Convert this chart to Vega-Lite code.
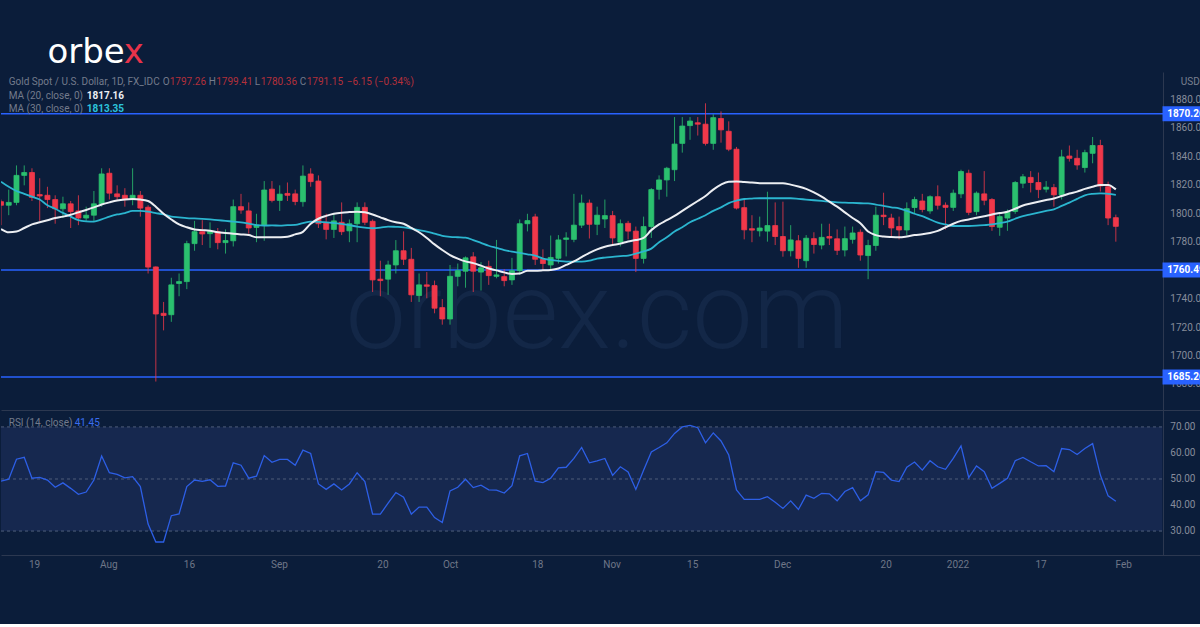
{
"$schema": "https://vega.github.io/schema/vega-lite/v6.json",
"background": "#0b1d3a",
"padding": {"left": 0, "top": 36, "right": 0, "bottom": 55},
"config": {"view": {"stroke": null}, "axis": {"labelFont": "Roboto", "labelFontSize": 10}},
"datasets": {
"gold": [
{"d":"2021-07-12","o":1808.5,"h":1810,"l":1792,"c":1806,"m20":1789.3,"m30":1822.6,"rsi":49.2},
{"d":"2021-07-13","o":1806,"h":1817,"l":1799,"c":1808,"m20":1787,"m30":1819,"rsi":49.9},
{"d":"2021-07-14","o":1808,"h":1834,"l":1806,"c":1827,"m20":1787.5,"m30":1816,"rsi":57.6},
{"d":"2021-07-15","o":1827,"h":1834,"l":1820,"c":1829,"m20":1790,"m30":1814,"rsi":58.3},
{"d":"2021-07-16","o":1829,"h":1832,"l":1809,"c":1811.5,"m20":1792.5,"m30":1812,"rsi":50.3},
{"d":"2021-07-19","o":1813.5,"h":1825,"l":1795,"c":1812.5,"m20":1794,"m30":1810,"rsi":50.6},
{"d":"2021-07-20","o":1813,"h":1819,"l":1804,"c":1810,"m20":1795.5,"m30":1806,"rsi":49.6},
{"d":"2021-07-21","o":1810,"h":1813,"l":1793,"c":1803.5,"m20":1797,"m30":1803.5,"rsi":46.8},
{"d":"2021-07-22","o":1803.5,"h":1812,"l":1797,"c":1807,"m20":1798,"m30":1800.6,"rsi":48.5},
{"d":"2021-07-23","o":1807,"h":1809,"l":1790,"c":1801.5,"m20":1799.3,"m30":1798,"rsi":46.4},
{"d":"2021-07-26","o":1802,"h":1813,"l":1792,"c":1797,"m20":1801,"m30":1795.5,"rsi":44.1},
{"d":"2021-07-27","o":1797,"h":1805,"l":1795,"c":1799,"m20":1802.7,"m30":1794.7,"rsi":45},
{"d":"2021-07-28","o":1799,"h":1816,"l":1795,"c":1807,"m20":1804.5,"m30":1794.5,"rsi":49.6},
{"d":"2021-07-29","o":1807,"h":1832,"l":1805,"c":1828,"m20":1806.5,"m30":1796,"rsi":58.8},
{"d":"2021-07-30","o":1828.5,"h":1832,"l":1810,"c":1814.5,"m20":1808,"m30":1798,"rsi":52.4},
{"d":"2021-08-02","o":1814,"h":1820,"l":1809,"c":1812,"m20":1809.3,"m30":1799.5,"rsi":51.8},
{"d":"2021-08-03","o":1813,"h":1818,"l":1805,"c":1810,"m20":1810,"m30":1800.5,"rsi":50.4},
{"d":"2021-08-04","o":1810,"h":1832,"l":1806,"c":1813,"m20":1810.3,"m30":1802,"rsi":50.9},
{"d":"2021-08-05","o":1813,"h":1816,"l":1798,"c":1804,"m20":1810,"m30":1802,"rsi":47.1},
{"d":"2021-08-06","o":1804.6,"h":1806,"l":1758,"c":1762.5,"m20":1809,"m30":1801.5,"rsi":32.7},
{"d":"2021-08-09","o":1762.6,"h":1763,"l":1682,"c":1729.5,"m20":1805,"m30":1800.5,"rsi":25.8},
{"d":"2021-08-10","o":1730,"h":1738,"l":1718,"c":1728.5,"m20":1800,"m30":1799.5,"rsi":25.8},
{"d":"2021-08-11","o":1729,"h":1755,"l":1724,"c":1750,"m20":1796,"m30":1798,"rsi":35.9},
{"d":"2021-08-12","o":1751,"h":1758,"l":1742,"c":1752.3,"m20":1792.5,"m30":1797.5,"rsi":36.6},
{"d":"2021-08-13","o":1752.3,"h":1781,"l":1747,"c":1779,"m20":1790.5,"m30":1797,"rsi":47.1},
{"d":"2021-08-16","o":1779,"h":1795,"l":1774,"c":1787.4,"m20":1789,"m30":1796.7,"rsi":49.6},
{"d":"2021-08-17","o":1787.4,"h":1795.5,"l":1778,"c":1785.8,"m20":1788.5,"m30":1796.4,"rsi":49.1},
{"d":"2021-08-18","o":1786,"h":1794,"l":1776,"c":1787.5,"m20":1788,"m30":1796,"rsi":49.7},
{"d":"2021-08-19","o":1787.4,"h":1790,"l":1775,"c":1779.7,"m20":1787,"m30":1795.5,"rsi":47.2},
{"d":"2021-08-20","o":1779.7,"h":1789,"l":1772,"c":1781.2,"m20":1786.5,"m30":1795,"rsi":47.3},
{"d":"2021-08-23","o":1781,"h":1810,"l":1777,"c":1805,"m20":1786,"m30":1794.5,"rsi":56.2},
{"d":"2021-08-24","o":1805,"h":1814,"l":1800,"c":1802.6,"m20":1785.5,"m30":1794,"rsi":55.3},
{"d":"2021-08-25","o":1802,"h":1808,"l":1786,"c":1790,"m20":1785,"m30":1793,"rsi":50.3},
{"d":"2021-08-26","o":1790.4,"h":1800,"l":1780,"c":1792,"m20":1783.5,"m30":1792,"rsi":51.1},
{"d":"2021-08-27","o":1791.7,"h":1823,"l":1781,"c":1816.7,"m20":1783.4,"m30":1791.7,"rsi":59},
{"d":"2021-08-30","o":1817.3,"h":1823,"l":1808,"c":1809.4,"m20":1783.4,"m30":1791.8,"rsi":56.4},
{"d":"2021-08-31","o":1809.4,"h":1820,"l":1802,"c":1813.8,"m20":1783.5,"m30":1791.7,"rsi":57.5},
{"d":"2021-09-01","o":1814.3,"h":1822,"l":1809,"c":1813,"m20":1783.8,"m30":1792,"rsi":57.5},
{"d":"2021-09-02","o":1814,"h":1817,"l":1806,"c":1808.6,"m20":1785.5,"m30":1792.2,"rsi":55.3},
{"d":"2021-09-03","o":1808.5,"h":1834,"l":1805,"c":1826.5,"m20":1787.3,"m30":1793.5,"rsi":61.1},
{"d":"2021-09-06","o":1828,"h":1832,"l":1819,"c":1822.6,"m20":1793,"m30":1794.5,"rsi":59.8},
{"d":"2021-09-07","o":1823,"h":1827,"l":1790,"c":1793,"m20":1796.5,"m30":1794.3,"rsi":48.1},
{"d":"2021-09-08","o":1794,"h":1800,"l":1782,"c":1789,"m20":1798.5,"m30":1794,"rsi":46},
{"d":"2021-09-09","o":1789,"h":1800,"l":1783,"c":1795,"m20":1800,"m30":1793.5,"rsi":48.1},
{"d":"2021-09-10","o":1794,"h":1808,"l":1785,"c":1787.4,"m20":1800.8,"m30":1792.9,"rsi":45.8},
{"d":"2021-09-13","o":1788,"h":1796,"l":1780,"c":1793,"m20":1801.2,"m30":1792,"rsi":48.1},
{"d":"2021-09-14","o":1793,"h":1808,"l":1780,"c":1804.5,"m20":1801.5,"m30":1791,"rsi":52.4},
{"d":"2021-09-15","o":1804.5,"h":1808,"l":1792,"c":1794,"m20":1801,"m30":1790.3,"rsi":49},
{"d":"2021-09-16","o":1794.7,"h":1796,"l":1745,"c":1753.5,"m20":1799.5,"m30":1789.8,"rsi":36.5},
{"d":"2021-09-17","o":1754,"h":1767,"l":1742,"c":1753,"m20":1797.5,"m30":1790.2,"rsi":36.5},
{"d":"2021-09-20","o":1754,"h":1767,"l":1743,"c":1764,"m20":1795.5,"m30":1791,"rsi":40.7},
{"d":"2021-09-21","o":1764,"h":1781.5,"l":1758,"c":1774,"m20":1794,"m30":1790.8,"rsi":44.8},
{"d":"2021-09-22","o":1774,"h":1787.6,"l":1764,"c":1768,"m20":1793,"m30":1790.5,"rsi":43},
{"d":"2021-09-23","o":1768,"h":1776,"l":1738,"c":1743,"m20":1790,"m30":1789.5,"rsi":36.5},
{"d":"2021-09-24","o":1742.5,"h":1758,"l":1738,"c":1750,"m20":1787,"m30":1788.5,"rsi":39.2},
{"d":"2021-09-27","o":1750,"h":1759,"l":1740.6,"c":1749,"m20":1783,"m30":1787.5,"rsi":39.2},
{"d":"2021-09-28","o":1749.5,"h":1753,"l":1730,"c":1733.6,"m20":1778.5,"m30":1786,"rsi":35.2},
{"d":"2021-09-29","o":1734,"h":1740,"l":1722,"c":1726,"m20":1774.5,"m30":1784.5,"rsi":33.3},
{"d":"2021-09-30","o":1726,"h":1764,"l":1722,"c":1756,"m20":1771,"m30":1783.8,"rsi":45.4},
{"d":"2021-10-01","o":1756,"h":1765,"l":1749,"c":1760,"m20":1768.5,"m30":1783.5,"rsi":46.8},
{"d":"2021-10-04","o":1759.6,"h":1770,"l":1748,"c":1769,"m20":1766.5,"m30":1783.2,"rsi":49.9},
{"d":"2021-10-05","o":1769.7,"h":1773,"l":1745,"c":1759.6,"m20":1765.3,"m30":1781.5,"rsi":46.7},
{"d":"2021-10-06","o":1759,"h":1766,"l":1746,"c":1762,"m20":1763.5,"m30":1779.5,"rsi":47.6},
{"d":"2021-10-07","o":1763,"h":1767,"l":1750,"c":1756.5,"m20":1761.5,"m30":1777.5,"rsi":45.8},
{"d":"2021-10-08","o":1756,"h":1781.6,"l":1754.6,"c":1757,"m20":1760.2,"m30":1776,"rsi":45.7},
{"d":"2021-10-11","o":1755.8,"h":1761,"l":1749,"c":1753,"m20":1758.8,"m30":1774.5,"rsi":44.6},
{"d":"2021-10-12","o":1753.5,"h":1769,"l":1750,"c":1760,"m20":1757.7,"m30":1773.4,"rsi":47.4},
{"d":"2021-10-13","o":1760,"h":1796,"l":1757,"c":1793,"m20":1758,"m30":1772.5,"rsi":58.9},
{"d":"2021-10-14","o":1793,"h":1800,"l":1787.6,"c":1795.2,"m20":1760,"m30":1771.5,"rsi":59.8},
{"d":"2021-10-15","o":1797.8,"h":1800,"l":1764,"c":1768,"m20":1760,"m30":1770.5,"rsi":49.2},
{"d":"2021-10-18","o":1768,"h":1775,"l":1760,"c":1765,"m20":1760.2,"m30":1768.5,"rsi":48.6},
{"d":"2021-10-19","o":1764,"h":1784.7,"l":1760,"c":1769.3,"m20":1760.5,"m30":1767.5,"rsi":50.3},
{"d":"2021-10-20","o":1768.7,"h":1785,"l":1765,"c":1781.6,"m20":1761.5,"m30":1766.8,"rsi":54.3},
{"d":"2021-10-21","o":1782,"h":1787,"l":1770,"c":1783,"m20":1764,"m30":1766.3,"rsi":54.5},
{"d":"2021-10-22","o":1782,"h":1814,"l":1780,"c":1792,"m20":1766.5,"m30":1766.3,"rsi":57.9},
{"d":"2021-10-25","o":1792,"h":1813.5,"l":1790,"c":1807.5,"m20":1769.5,"m30":1766.3,"rsi":62.1},
{"d":"2021-10-26","o":1807.5,"h":1810,"l":1782.6,"c":1792.6,"m20":1772.5,"m30":1767,"rsi":56.2},
{"d":"2021-10-27","o":1792.6,"h":1805,"l":1785,"c":1799,"m20":1775,"m30":1768.5,"rsi":57},
{"d":"2021-10-28","o":1796.3,"h":1810,"l":1790,"c":1798.7,"m20":1776.8,"m30":1769.2,"rsi":57.9},
{"d":"2021-10-29","o":1798.7,"h":1802,"l":1778,"c":1783,"m20":1778,"m30":1769.7,"rsi":51.4},
{"d":"2021-11-01","o":1780,"h":1796,"l":1777,"c":1793,"m20":1779,"m30":1770.2,"rsi":54.7},
{"d":"2021-11-02","o":1793.3,"h":1795,"l":1782,"c":1787.8,"m20":1780.5,"m30":1770.6,"rsi":52.7},
{"d":"2021-11-03","o":1787.8,"h":1791,"l":1759,"c":1768.6,"m20":1781.5,"m30":1772,"rsi":46},
{"d":"2021-11-04","o":1768.6,"h":1798,"l":1765,"c":1791,"m20":1783,"m30":1773.5,"rsi":53.4},
{"d":"2021-11-05","o":1791,"h":1818,"l":1783,"c":1817,"m20":1788.5,"m30":1775.5,"rsi":60.4},
{"d":"2021-11-08","o":1817.2,"h":1827,"l":1810,"c":1823.8,"m20":1792.5,"m30":1780,"rsi":62.1},
{"d":"2021-11-09","o":1823.8,"h":1833,"l":1812,"c":1832,"m20":1795.5,"m30":1783.5,"rsi":63.9},
{"d":"2021-11-10","o":1831,"h":1868,"l":1823,"c":1849,"m20":1798.5,"m30":1787.5,"rsi":67.5},
{"d":"2021-11-11","o":1849.5,"h":1868,"l":1843,"c":1861.7,"m20":1802,"m30":1790.5,"rsi":70},
{"d":"2021-11-12","o":1862,"h":1868,"l":1852,"c":1865.2,"m20":1805.5,"m30":1794,"rsi":70.6},
{"d":"2021-11-15","o":1864,"h":1868,"l":1855,"c":1863,"m20":1809,"m30":1796.5,"rsi":69.7},
{"d":"2021-11-16","o":1863,"h":1877.7,"l":1848,"c":1849.5,"m20":1812.5,"m30":1799,"rsi":63.9},
{"d":"2021-11-17","o":1849.5,"h":1870,"l":1845,"c":1867.6,"m20":1817,"m30":1802,"rsi":67.7},
{"d":"2021-11-18","o":1867,"h":1872,"l":1850,"c":1859,"m20":1820.5,"m30":1804.5,"rsi":64.6},
{"d":"2021-11-19","o":1858,"h":1865,"l":1844,"c":1845.4,"m20":1822.5,"m30":1807.5,"rsi":59.2},
{"d":"2021-11-22","o":1845.4,"h":1847,"l":1803,"c":1804,"m20":1822.7,"m30":1809.2,"rsi":45.8},
{"d":"2021-11-23","o":1804.3,"h":1810,"l":1782,"c":1788.7,"m20":1822.3,"m30":1810.4,"rsi":42.2},
{"d":"2021-11-24","o":1789.5,"h":1799,"l":1780,"c":1788.5,"m20":1822,"m30":1810.7,"rsi":42.2},
{"d":"2021-11-25","o":1788,"h":1798,"l":1784,"c":1790,"m20":1821.5,"m30":1810.9,"rsi":42.2},
{"d":"2021-11-26","o":1787.8,"h":1815.5,"l":1780.4,"c":1791.7,"m20":1821.5,"m30":1810.9,"rsi":43.2},
{"d":"2021-11-29","o":1791.7,"h":1808,"l":1778,"c":1784,"m20":1821.5,"m30":1810.9,"rsi":41.1},
{"d":"2021-11-30","o":1784,"h":1808.5,"l":1769.8,"c":1774,"m20":1821.5,"m30":1810.9,"rsi":38.7},
{"d":"2021-12-01","o":1774,"h":1792,"l":1770,"c":1781.6,"m20":1820.5,"m30":1810.9,"rsi":41.6},
{"d":"2021-12-02","o":1781,"h":1785,"l":1762,"c":1768.6,"m20":1819.2,"m30":1810.5,"rsi":38.3},
{"d":"2021-12-03","o":1767,"h":1785,"l":1762,"c":1782.8,"m20":1817.5,"m30":1810,"rsi":43.8},
{"d":"2021-12-06","o":1782.5,"h":1787,"l":1772,"c":1778.4,"m20":1815,"m30":1809.5,"rsi":42.6},
{"d":"2021-12-07","o":1778,"h":1793,"l":1775,"c":1783.4,"m20":1812,"m30":1809,"rsi":44.5},
{"d":"2021-12-08","o":1784,"h":1793,"l":1778,"c":1782.9,"m20":1808.5,"m30":1808.5,"rsi":44.3},
{"d":"2021-12-09","o":1782.4,"h":1789,"l":1771,"c":1774.3,"m20":1805,"m30":1808,"rsi":41.6},
{"d":"2021-12-10","o":1774.5,"h":1791,"l":1770,"c":1782.5,"m20":1801,"m30":1807.8,"rsi":45.2},
{"d":"2021-12-13","o":1782,"h":1791,"l":1779,"c":1786.5,"m20":1797,"m30":1807.6,"rsi":46.7},
{"d":"2021-12-14","o":1787,"h":1789,"l":1767,"c":1771,"m20":1793.4,"m30":1807.4,"rsi":41.6},
{"d":"2021-12-15","o":1770.6,"h":1781.7,"l":1754,"c":1777.7,"m20":1787.5,"m30":1807.3,"rsi":43.9},
{"d":"2021-12-16","o":1777.7,"h":1805,"l":1774,"c":1799,"m20":1785,"m30":1806.5,"rsi":52.8},
{"d":"2021-12-17","o":1799,"h":1814.8,"l":1792,"c":1798,"m20":1784,"m30":1805.5,"rsi":52.5},
{"d":"2021-12-20","o":1797,"h":1800,"l":1784,"c":1790,"m20":1783.6,"m30":1804.5,"rsi":49.6},
{"d":"2021-12-21","o":1791,"h":1798,"l":1782,"c":1788.6,"m20":1783.4,"m30":1803.8,"rsi":49},
{"d":"2021-12-22","o":1788.6,"h":1808,"l":1785,"c":1803.6,"m20":1784,"m30":1802,"rsi":54.5},
{"d":"2021-12-23","o":1804.4,"h":1812,"l":1800,"c":1810,"m20":1785,"m30":1800,"rsi":56.5},
{"d":"2021-12-24","o":1809,"h":1814,"l":1801,"c":1803,"m20":1785.6,"m30":1798.4,"rsi":53.4},
{"d":"2021-12-27","o":1802,"h":1813,"l":1800,"c":1812,"m20":1786.5,"m30":1796,"rsi":57},
{"d":"2021-12-28","o":1812,"h":1820,"l":1803,"c":1806,"m20":1788,"m30":1793.8,"rsi":54.7},
{"d":"2021-12-29","o":1806,"h":1808,"l":1789,"c":1804.5,"m20":1790.5,"m30":1792.5,"rsi":53.7},
{"d":"2021-12-30","o":1804.5,"h":1817,"l":1802,"c":1814.5,"m20":1793,"m30":1791.4,"rsi":57.9},
{"d":"2021-12-31","o":1814,"h":1831,"l":1811,"c":1829.7,"m20":1795,"m30":1791.4,"rsi":62.7},
{"d":"2022-01-03","o":1828.5,"h":1831,"l":1799,"c":1801,"m20":1796,"m30":1791.4,"rsi":50.5},
{"d":"2022-01-04","o":1801.5,"h":1815.7,"l":1799,"c":1814.5,"m20":1797.2,"m30":1791.6,"rsi":55},
{"d":"2022-01-05","o":1814,"h":1830,"l":1806,"c":1809.5,"m20":1798.3,"m30":1792,"rsi":52.8},
{"d":"2022-01-06","o":1810,"h":1811,"l":1788,"c":1791,"m20":1799.5,"m30":1792.5,"rsi":46.4},
{"d":"2022-01-07","o":1790.5,"h":1800,"l":1784.5,"c":1798,"m20":1800.5,"m30":1793.5,"rsi":48.3},
{"d":"2022-01-10","o":1797,"h":1803,"l":1788,"c":1801.5,"m20":1801.4,"m30":1794.4,"rsi":50.3},
{"d":"2022-01-11","o":1801.6,"h":1823,"l":1800,"c":1822,"m20":1803.5,"m30":1796.5,"rsi":57},
{"d":"2022-01-12","o":1821.5,"h":1828,"l":1818,"c":1826,"m20":1805.8,"m30":1798.4,"rsi":58.3},
{"d":"2022-01-13","o":1825.6,"h":1830,"l":1815,"c":1822,"m20":1807.2,"m30":1799.6,"rsi":56.6},
{"d":"2022-01-14","o":1822,"h":1829,"l":1811,"c":1817,"m20":1808.5,"m30":1800.8,"rsi":55},
{"d":"2022-01-17","o":1817.3,"h":1823,"l":1815,"c":1818.7,"m20":1809.7,"m30":1802,"rsi":55.1},
{"d":"2022-01-18","o":1818.4,"h":1821,"l":1805,"c":1813.3,"m20":1810.8,"m30":1803.1,"rsi":52.8},
{"d":"2022-01-19","o":1813.3,"h":1845,"l":1810,"c":1840,"m20":1812.5,"m30":1805.5,"rsi":61.7},
{"d":"2022-01-20","o":1840.6,"h":1848,"l":1836.7,"c":1839,"m20":1814.2,"m30":1807.8,"rsi":61.3},
{"d":"2022-01-21","o":1839,"h":1845,"l":1831,"c":1834.3,"m20":1815.6,"m30":1810.5,"rsi":59.4},
{"d":"2022-01-24","o":1832.5,"h":1845,"l":1829,"c":1843,"m20":1817.5,"m30":1813,"rsi":61.7},
{"d":"2022-01-25","o":1842.5,"h":1854,"l":1835.5,"c":1848,"m20":1819,"m30":1814,"rsi":63.6},
{"d":"2022-01-26","o":1848,"h":1852,"l":1815.6,"c":1819.6,"m20":1820.3,"m30":1814.4,"rsi":51.5},
{"d":"2022-01-27","o":1819,"h":1822.6,"l":1792,"c":1797,"m20":1820.3,"m30":1814,"rsi":43.5},
{"d":"2022-01-28","o":1797.26,"h":1799.41,"l":1780.36,"c":1791.15,"m20":1817.16,"m30":1813.35,"rsi":41.45}
],
"levels": [{"level": 1870.26}, {"level": 1760.49}, {"level": 1685.26}],
"pticks": [{"t": 1680}, {"t": 1700}, {"t": 1720}, {"t": 1740}, {"t": 1780}, {"t": 1800}, {"t": 1820}, {"t": 1840}, {"t": 1860}, {"t": 1880}],
"rticks": [{"t": 30}, {"t": 40}, {"t": 50}, {"t": 60}, {"t": 70}],
"rsilv": [{"v": 70}, {"v": 50}, {"v": 30}]
},
"spacing": 0,
"vconcat": [
{
"width": 1200,
"height": 338,
"data": {"name": "gold"},
"layer": [
{"data": {"values": [{}]}, "mark": {"type": "text", "text": "orbex.com", "font": "Roboto", "fontSize": 108, "fontWeight": 300, "color": "#132747", "align": "center", "baseline": "alphabetic"},
 "encoding": {"x": {"datum": "2021-10-27", "type": "ordinal"}, "y": {"datum": 1705.6, "type": "quantitative"}}},
{"data": {"name": "levels"}, "mark": {"type": "rule", "color": "#2962ff", "strokeWidth": 1.5},
 "encoding": {"y": {"field": "level", "type": "quantitative"}}},
{"mark": {"type": "rule", "clip": true, "strokeWidth": 1, "opacity": 0.8},
 "encoding": {
  "x": {"field": "d", "type": "ordinal", "scale": {"type": "point", "padding": 0, "domain": {"unionWith": ["2022-01-31","2022-02-01","2022-02-02","2022-02-03","2022-02-04","2022-02-07","2022-02-08","2022-02-09","2022-02-10","2022-02-11","2022-02-14"]}},
        "axis": {"labels": false, "ticks": false, "domain": true, "domainColor": "#2c3850", "grid": false, "title": null}},
  "y": {"field": "l", "type": "quantitative", "scale": {"domain": [1662, 1899.7], "nice": false, "zero": false},
        "axis": {"orient": "right", "offset": -38, "labels": false, "title": null, "grid": false, "ticks": false, "domainColor": "#2c3850"}},
  "y2": {"field": "h"},
  "color": {"condition": {"test": "datum.c >= datum.o", "value": "#2bc06f"}, "value": "#f0384a"}}},
{"mark": {"type": "bar", "width": 5, "clip": true, "strokeWidth": 0.8},
 "encoding": {
  "x": {"field": "d", "type": "ordinal"},
  "y": {"field": "o", "type": "quantitative"},
  "y2": {"field": "c"},
  "color": {"condition": {"test": "datum.c >= datum.o", "value": "#2bc06f"}, "value": "#f0384a"},
  "stroke": {"condition": {"test": "datum.c >= datum.o", "value": "#2bc06f"}, "value": "#f0384a"}}},
{"mark": {"type": "line", "color": "#2bb5cf", "strokeWidth": 1.8, "clip": true, "interpolate": "monotone"},
 "encoding": {"x": {"field": "d", "type": "ordinal"}, "y": {"field": "m30", "type": "quantitative"}}},
{"mark": {"type": "line", "color": "#eceef2", "strokeWidth": 2, "clip": true, "interpolate": "monotone"},
 "encoding": {"x": {"field": "d", "type": "ordinal"}, "y": {"field": "m20", "type": "quantitative"}}},
{"data": {"name": "pticks"}, "mark": {"type": "text", "align": "left", "baseline": "middle", "dx": 8, "font": "Roboto", "fontSize": 10, "color": "#868c9a"},
 "encoding": {"x": {"datum": "2022-02-07", "type": "ordinal"}, "y": {"field": "t", "type": "quantitative"}, "text": {"field": "t", "type": "quantitative", "format": ".2f"}}},
{"data": {"name": "levels"}, "mark": {"type": "tick", "orient": "horizontal", "thickness": 15, "size": 46, "color": "#2962ff", "opacity": 1},
 "encoding": {"x": {"datum": "2022-02-10", "type": "ordinal"}, "y": {"field": "level", "type": "quantitative"}}},
{"data": {"name": "levels"}, "mark": {"type": "text", "align": "left", "baseline": "middle", "dx": 5, "font": "Roboto", "fontWeight": "bold", "fontSize": 10, "color": "#ffffff"},
 "encoding": {"x": {"datum": "2022-02-07", "type": "ordinal"}, "y": {"field": "level", "type": "quantitative"}, "text": {"field": "level", "type": "quantitative", "format": ".2f"}}},
{"data": {"values": [{}]}, "mark": {"type": "text", "text": "USD", "dx": 3, "align": "left", "baseline": "middle", "font": "Roboto", "fontSize": 10, "color": "#7a8090"},
 "encoding": {"x": {"datum": "2022-02-09", "type": "ordinal"}, "y": {"datum": 1892.6, "type": "quantitative"}}},
{"data": {"values": [{}]}, "mark": {"type": "text", "text": "Gold Spot / U.S. Dollar, 1D, FX_IDC", "align": "left", "baseline": "middle", "font": "Roboto", "fontSize": 10, "color": "#737b8c"},
 "encoding": {"x": {"datum": "2021-07-13", "type": "ordinal"}, "y": {"datum": 1892.6, "type": "quantitative"}}},
{"data": {"values": [{}]}, "mark": {"type": "text", "text": "O", "dx": 154, "align": "left", "baseline": "middle", "font": "Roboto", "fontSize": 10, "color": "#737b8c"},
 "encoding": {"x": {"datum": "2021-07-13", "type": "ordinal"}, "y": {"datum": 1892.6, "type": "quantitative"}}},
{"data": {"values": [{}]}, "mark": {"type": "text", "text": "1797.26", "dx": 161, "align": "left", "baseline": "middle", "font": "Roboto", "fontSize": 10, "color": "#b3303a"},
 "encoding": {"x": {"datum": "2021-07-13", "type": "ordinal"}, "y": {"datum": 1892.6, "type": "quantitative"}}},
{"data": {"values": [{}]}, "mark": {"type": "text", "text": "H", "dx": 200, "align": "left", "baseline": "middle", "font": "Roboto", "fontSize": 10, "color": "#737b8c"},
 "encoding": {"x": {"datum": "2021-07-13", "type": "ordinal"}, "y": {"datum": 1892.6, "type": "quantitative"}}},
{"data": {"values": [{}]}, "mark": {"type": "text", "text": "1799.41", "dx": 207.5, "align": "left", "baseline": "middle", "font": "Roboto", "fontSize": 10, "color": "#b3303a"},
 "encoding": {"x": {"datum": "2021-07-13", "type": "ordinal"}, "y": {"datum": 1892.6, "type": "quantitative"}}},
{"data": {"values": [{}]}, "mark": {"type": "text", "text": "L", "dx": 246, "align": "left", "baseline": "middle", "font": "Roboto", "fontSize": 10, "color": "#737b8c"},
 "encoding": {"x": {"datum": "2021-07-13", "type": "ordinal"}, "y": {"datum": 1892.6, "type": "quantitative"}}},
{"data": {"values": [{}]}, "mark": {"type": "text", "text": "1780.36", "dx": 252, "align": "left", "baseline": "middle", "font": "Roboto", "fontSize": 10, "color": "#b3303a"},
 "encoding": {"x": {"datum": "2021-07-13", "type": "ordinal"}, "y": {"datum": 1892.6, "type": "quantitative"}}},
{"data": {"values": [{}]}, "mark": {"type": "text", "text": "C", "dx": 291, "align": "left", "baseline": "middle", "font": "Roboto", "fontSize": 10, "color": "#737b8c"},
 "encoding": {"x": {"datum": "2021-07-13", "type": "ordinal"}, "y": {"datum": 1892.6, "type": "quantitative"}}},
{"data": {"values": [{}]}, "mark": {"type": "text", "text": "1791.15", "dx": 298, "align": "left", "baseline": "middle", "font": "Roboto", "fontSize": 10, "color": "#b3303a"},
 "encoding": {"x": {"datum": "2021-07-13", "type": "ordinal"}, "y": {"datum": 1892.6, "type": "quantitative"}}},
{"data": {"values": [{}]}, "mark": {"type": "text", "text": "−6.15 (−0.34%)", "dx": 338, "align": "left", "baseline": "middle", "font": "Roboto", "fontSize": 10, "color": "#b3303a"},
 "encoding": {"x": {"datum": "2021-07-13", "type": "ordinal"}, "y": {"datum": 1892.6, "type": "quantitative"}}},
{"data": {"values": [{}]}, "mark": {"type": "text", "text": "MA (20, close, 0)", "align": "left", "baseline": "middle", "font": "Roboto", "fontSize": 10, "color": "#737b8c"},
 "encoding": {"x": {"datum": "2021-07-13", "type": "ordinal"}, "y": {"datum": 1883, "type": "quantitative"}}},
{"data": {"values": [{}]}, "mark": {"type": "text", "text": "1817.16", "dx": 78, "align": "left", "baseline": "middle", "font": "Roboto", "fontSize": 10, "fontWeight": "bold", "color": "#eceef2"},
 "encoding": {"x": {"datum": "2021-07-13", "type": "ordinal"}, "y": {"datum": 1883, "type": "quantitative"}}},
{"data": {"values": [{}]}, "mark": {"type": "text", "text": "MA (30, close, 0)", "align": "left", "baseline": "middle", "font": "Roboto", "fontSize": 10, "color": "#737b8c"},
 "encoding": {"x": {"datum": "2021-07-13", "type": "ordinal"}, "y": {"datum": 1873.7, "type": "quantitative"}}},
{"data": {"values": [{}]}, "mark": {"type": "text", "text": "1813.35", "dx": 78, "align": "left", "baseline": "middle", "font": "Roboto", "fontSize": 10, "fontWeight": "bold", "color": "#2bc3dc"},
 "encoding": {"x": {"datum": "2021-07-13", "type": "ordinal"}, "y": {"datum": 1873.7, "type": "quantitative"}}},
{"data": {"values": [{}]}, "mark": {"type": "text", "text": "orbe", "align": "left", "baseline": "alphabetic", "font": "DejaVu Sans", "fontSize": 34, "color": "#ffffff"},
 "encoding": {"x": {"datum": "2021-07-20", "type": "ordinal"}, "y": {"datum": 1906, "type": "quantitative"}}},
{"data": {"values": [{}]}, "mark": {"type": "text", "text": "x", "dx": -1, "align": "left", "baseline": "alphabetic", "font": "DejaVu Sans", "fontSize": 34, "color": "#e8334a"},
 "encoding": {"x": {"datum": "2021-08-03", "type": "ordinal"}, "y": {"datum": 1906, "type": "quantitative"}}}
]
},
{
"width": 1200,
"height": 145,
"data": {"name": "gold"},
"layer": [
{"data": {"values": [{}]}, "mark": {"type": "rect", "color": "#16284f"},
 "encoding": {"x": {"datum": "2021-07-12", "type": "ordinal"}, "x2": {"datum": "2022-02-07"}, "y": {"datum": 70, "type": "quantitative"}, "y2": {"datum": 30}}},
{"data": {"name": "rsilv"}, "mark": {"type": "rule", "color": "#4f5d7a", "strokeWidth": 1, "strokeDash": [3, 3]},
 "encoding": {"x": {"datum": "2021-07-12", "type": "ordinal"}, "x2": {"datum": "2022-02-07"}, "y": {"field": "v", "type": "quantitative"}}},
{"mark": {"type": "line", "color": "#2d5fe6", "strokeWidth": 1.3, "clip": true},
 "encoding": {
  "x": {"field": "d", "type": "ordinal", "scale": {"type": "point", "padding": 0, "domain": {"unionWith": ["2022-01-31","2022-02-01","2022-02-02","2022-02-03","2022-02-04","2022-02-07","2022-02-08","2022-02-09","2022-02-10","2022-02-11","2022-02-14"]}},
        "axis": {"values": ["2021-07-19","2021-08-02","2021-08-16","2021-09-01","2021-09-20","2021-10-01","2021-10-18","2021-11-01","2021-11-15","2021-12-01","2021-12-20","2022-01-03","2022-01-17","2022-02-01"],
                 "labelExpr": "{'2021-07-19':'19','2021-08-02':'Aug','2021-08-16':'16','2021-09-01':'Sep','2021-09-20':'20','2021-10-01':'Oct','2021-10-18':'18','2021-11-01':'Nov','2021-11-15':'15','2021-12-01':'Dec','2021-12-20':'20','2022-01-03':'2022','2022-01-17':'17','2022-02-01':'Feb'}[datum.value]",
                 "ticks": false, "grid": false, "title": null, "labelOverlap": false, "domainColor": "#2c3850", "labelColor": "#6f7788", "labelPadding": 9, "labelAngle": 0}},
  "y": {"field": "rsi", "type": "quantitative", "scale": {"domain": [20.8, 76.5], "nice": false, "zero": false},
        "axis": {"orient": "right", "offset": -38, "labels": false, "title": null, "grid": false, "ticks": false, "domainColor": "#2c3850"}}}},
{"data": {"name": "rticks"}, "mark": {"type": "text", "align": "left", "baseline": "middle", "dx": 8, "font": "Roboto", "fontSize": 10, "color": "#868c9a"},
 "encoding": {"x": {"datum": "2022-02-07", "type": "ordinal"}, "y": {"field": "t", "type": "quantitative"}, "text": {"field": "t", "type": "quantitative", "format": ".2f"}}},
{"data": {"values": [{}]}, "mark": {"type": "text", "text": "RSI (14, close)", "align": "left", "baseline": "middle", "font": "Roboto", "fontSize": 10, "color": "#737b8c"},
 "encoding": {"x": {"datum": "2021-07-13", "type": "ordinal"}, "y": {"datum": 71.5, "type": "quantitative"}}},
{"data": {"values": [{}]}, "mark": {"type": "text", "text": "41.45", "dx": 66, "align": "left", "baseline": "middle", "font": "Roboto", "fontSize": 10, "color": "#3a6df0"},
 "encoding": {"x": {"datum": "2021-07-13", "type": "ordinal"}, "y": {"datum": 71.5, "type": "quantitative"}}}
]
}
]
}
